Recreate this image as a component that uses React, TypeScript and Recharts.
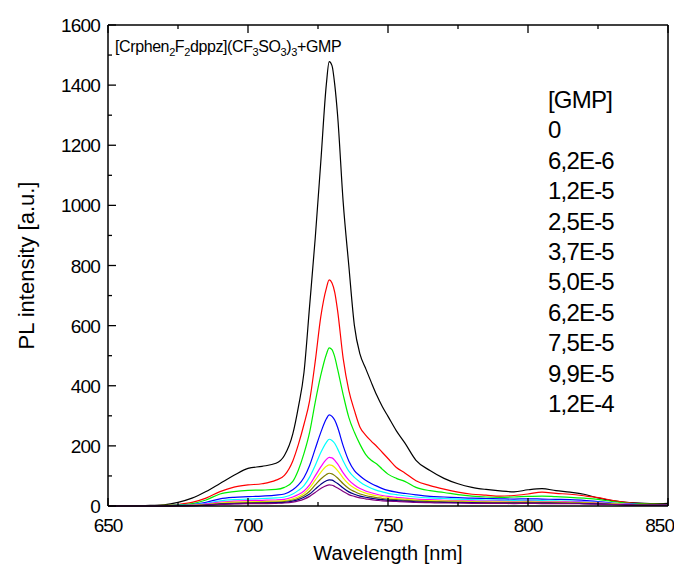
import { LineChart, Line, XAxis, YAxis, Legend } from 'recharts'

const wavelength = [650, 655, 660, 665, 670, 675, 680, 685, 690, 695, 700, 705, 710, 713, 716, 718, 720, 722, 724, 726, 728, 729, 730, 731, 732, 734, 736, 738, 740, 742, 744, 746, 748, 750, 753, 756, 760, 765, 770, 775, 780, 785, 790, 795, 800, 805, 810, 815, 820, 825, 830, 835, 840, 845, 850]

// PL intensity for each [GMP]
const gmp0 = [0, 1, 0, 2, 4, 12, 26, 48, 75, 102, 125, 132, 142, 168, 240, 330, 445, 665, 890, 1145, 1405, 1478, 1465, 1400, 1300, 1010, 800, 600, 505, 458, 412, 368, 330, 298, 250, 210, 152, 118, 92, 74, 62, 55, 50, 47, 54, 58, 51, 46, 39, 27, 18, 12, 10, 8, 9]
const gmp1 = [0, 0, 1, 1, 2, 5, 12, 26, 48, 63, 70, 74, 86, 102, 150, 205, 272, 350, 480, 630, 725, 752, 742, 710, 650, 490, 385, 318, 262, 236, 216, 198, 178, 158, 128, 110, 84, 68, 56, 46, 39, 36, 33, 35, 40, 46, 42, 39, 34, 28, 19, 12, 8, 6, 5]
const gmp2 = [0, 0, 0, 1, 2, 3, 8, 20, 40, 48, 52, 53, 55, 62, 82, 120, 175, 245, 345, 435, 505, 526, 520, 495, 455, 370, 295, 245, 205, 172, 152, 140, 122, 106, 92, 82, 62, 51, 45, 38, 33, 30, 29, 30, 32, 33, 31, 29, 26, 22, 15, 10, 7, 6, 5]
const gmp3 = [0, 0, 0, 1, 1, 2, 5, 12, 24, 29, 31, 33, 36, 40, 54, 70, 95, 135, 190, 245, 290, 303, 298, 285, 262, 200, 150, 118, 100, 86, 75, 66, 58, 52, 46, 42, 37, 32, 30, 28, 26, 25, 24, 23, 24, 23, 22, 21, 19, 15, 10, 7, 5, 4, 4]
const gmp4 = [0, 0, 0, 0, 1, 2, 4, 9, 17, 21, 23, 25, 27, 30, 40, 52, 68, 96, 135, 178, 212, 222, 218, 208, 190, 150, 116, 95, 80, 68, 59, 52, 47, 42, 38, 34, 30, 27, 25, 23, 21, 20, 19, 18, 19, 18, 17, 16, 14, 12, 9, 6, 5, 4, 4]
const gmp5 = [0, 0, 0, 0, 1, 1, 3, 7, 13, 16, 18, 19, 20, 22, 30, 38, 50, 70, 100, 130, 155, 162, 160, 152, 140, 110, 86, 70, 58, 50, 44, 39, 35, 32, 29, 26, 23, 21, 19, 18, 17, 16, 16, 15, 16, 15, 15, 14, 13, 11, 8, 6, 4, 4, 3]
const gmp6 = [0, 0, 0, 0, 0, 1, 2, 5, 10, 13, 14, 15, 16, 18, 24, 31, 42, 60, 86, 112, 132, 137, 135, 128, 118, 93, 73, 60, 50, 43, 38, 34, 31, 28, 25, 23, 20, 18, 17, 16, 15, 14, 14, 13, 14, 13, 13, 12, 11, 10, 7, 5, 4, 3, 3]
const gmp7 = [0, 0, 0, 0, 0, 1, 2, 4, 8, 10, 11, 12, 13, 15, 20, 26, 35, 49, 70, 90, 105, 109, 107, 101, 93, 74, 58, 48, 40, 35, 31, 28, 25, 23, 21, 19, 17, 15, 14, 13, 12, 12, 11, 11, 12, 11, 11, 10, 10, 8, 6, 4, 3, 3, 3]
const gmp8 = [0, 0, 0, 0, 0, 1, 1, 3, 6, 8, 9, 10, 11, 12, 16, 21, 29, 40, 56, 72, 84, 87, 86, 81, 75, 60, 47, 39, 33, 29, 26, 23, 21, 19, 18, 16, 14, 13, 12, 11, 11, 10, 10, 10, 10, 10, 9, 9, 8, 7, 5, 4, 3, 3, 3]
const gmp9 = [0, 0, 0, 0, 0, 0, 1, 3, 5, 7, 8, 8, 9, 10, 13, 17, 23, 32, 45, 58, 68, 70, 69, 65, 60, 48, 38, 32, 27, 24, 21, 19, 17, 16, 15, 14, 12, 11, 10, 10, 9, 9, 9, 8, 9, 8, 8, 8, 7, 6, 5, 4, 3, 3, 3]

const concentrations = ['0', '6,2E-6', '1,2E-5', '2,5E-5', '3,7E-5', '5,0E-5', '6,2E-5', '7,5E-5', '9,9E-5', '1,2E-4']
const colors = ['#000000', '#ff0000', '#00ee00', '#0000ff', '#00ffff', '#ff00ff', '#f0f000', '#808000', '#000080', '#800080']
const series = [gmp0, gmp1, gmp2, gmp3, gmp4, gmp5, gmp6, gmp7, gmp8, gmp9]

const xTicks = [650, 675, 700, 725, 750, 775, 800, 825, 850]
const xLabels = [650, 700, 750, 800, 850]
const yTicks = [0, 100, 200, 300, 400, 500, 600, 700, 800, 900, 1000, 1100, 1200, 1300, 1400, 1500, 1600]
const yLabels = [0, 200, 400, 600, 800, 1000, 1200, 1400, 1600]

const data = wavelength.map((w, i) => {
  const row: Record<string, number> = { w }
  series.forEach((s, k) => {
    row['c' + k] = s[i]
  })
  return row
})

const font = '"Liberation Sans", Arial, sans-serif'

const BottomTick = (props: any) => {
  const { x, y, payload } = props
  const major = xLabels.includes(payload.value)
  const last = payload.value === 850
  return (
    <g>
      <line x1={x} y1={y} x2={x} y2={y - (major ? 8 : 4)} stroke="#000" strokeWidth={1.3} />
      {major && (
        <text
          x={last ? x + 6 : x}
          y={y + 26}
          textAnchor={last ? 'end' : 'middle'}
          fontSize={19}
          fontFamily={font}
          fill="#000"
          letterSpacing={-1}
        >
          {payload.value}
        </text>
      )}
    </g>
  )
}

const TopTick = (props: any) => {
  const { x, y, payload } = props
  const major = xLabels.includes(payload.value)
  return <line x1={x} y1={y} x2={x} y2={y + (major ? 8 : 4)} stroke="#000" strokeWidth={1.3} />
}

const LeftTick = (props: any) => {
  const { x, y, payload } = props
  const major = yLabels.includes(payload.value)
  return (
    <g>
      <line x1={x} y1={y} x2={x + (major ? 8 : 4)} y2={y} stroke="#000" strokeWidth={1.3} />
      {major && (
        <text x={x - 8} y={y + 7} textAnchor="end" fontSize={19} fontFamily={font} fill="#000" letterSpacing={-0.8}>
          {payload.value}
        </text>
      )}
    </g>
  )
}

const RightTick = (props: any) => {
  const { x, y, payload } = props
  const major = yLabels.includes(payload.value)
  return <line x1={x} y1={y} x2={x - (major ? 8 : 4)} y2={y} stroke="#000" strokeWidth={1.3} />
}

const LegendBox = () => (
  <div style={{ fontFamily: font, fontSize: 24, lineHeight: '30.4px', letterSpacing: -0.8, color: '#000' }}>
    <div>[GMP]</div>
    {concentrations.map((v) => (
      <div key={v}>{v}</div>
    ))}
  </div>
)

export default function App() {
  return (
    <div style={{ position: 'relative', width: 682, height: 572, margin: -8 }}>
      <LineChart width={682} height={572} data={data} margin={{ top: 24, right: 13, bottom: 6, left: 48 }}>
        <XAxis
          dataKey="w"
          type="number"
          domain={[650, 850]}
          ticks={xTicks}
          interval={0}
          tickSize={0}
          tickMargin={0}
          tickLine={false}
          tick={<BottomTick />}
          height={60}
          axisLine={{ stroke: '#000', strokeWidth: 1.5 }}
          label={(p: any) => {
            const vb = p.viewBox || { x: 108, y: 506, width: 560 }
            return (
              <text x={vb.x + vb.width / 2} y={vb.y + 47} textAnchor="middle" dominantBaseline="central" fontSize={20} fontFamily={font} fill="#000">
                Wavelength [nm]
              </text>
            )
          }}
        />
        <XAxis
          xAxisId="top"
          orientation="top"
          dataKey="w"
          type="number"
          domain={[650, 850]}
          ticks={xTicks}
          interval={0}
          tickSize={0}
          tickMargin={0}
          tickLine={false}
          tick={<TopTick />}
          height={1}
          axisLine={{ stroke: '#000', strokeWidth: 1.5 }}
        />
        <YAxis
          type="number"
          domain={[0, 1600]}
          ticks={yTicks}
          interval={0}
          tickSize={0}
          tickMargin={0}
          tickLine={false}
          tick={<LeftTick />}
          width={60}
          axisLine={{ stroke: '#000', strokeWidth: 1.5 }}
          label={(p: any) => {
            const vb = p.viewBox || { x: 48, y: 25, height: 481 }
            const cx = vb.x - 22
            const cy = vb.y + vb.height / 2
            return (
              <text x={cx} y={cy} transform={`rotate(-90 ${cx} ${cy})`} textAnchor="middle" dominantBaseline="central" fontSize={22} fontFamily={font} fill="#000">
                PL intensity [a.u.]
              </text>
            )
          }}
        />
        <YAxis
          yAxisId="right"
          orientation="right"
          type="number"
          domain={[0, 1600]}
          ticks={yTicks}
          interval={0}
          tickSize={0}
          tickMargin={0}
          tickLine={false}
          tick={<RightTick />}
          width={1}
          axisLine={{ stroke: '#000', strokeWidth: 1.5 }}
        />
        <Legend
          layout="vertical"
          align="center"
          verticalAlign="middle"
          content={<LegendBox />}
          wrapperStyle={{ left: 548, top: 85, width: 120 }}
        />
        {series.map((_, k) => (
          <Line
            key={k}
            dataKey={'c' + k}
            name={concentrations[k]}
            stroke={colors[k]}
            strokeWidth={1.2}
            dot={false}
            type="monotone"
            isAnimationActive={false}
          />
        ))}
      </LineChart>
      <div style={{ position: 'absolute', left: 115, top: 38, fontFamily: font, fontSize: 16, lineHeight: '18px', letterSpacing: -0.4, color: '#000', whiteSpace: 'nowrap' }}>
        [Crphen<sub style={{ fontSize: 11 }}>2</sub>F<sub style={{ fontSize: 11 }}>2</sub>dppz](CF<sub style={{ fontSize: 11 }}>3</sub>SO
        <sub style={{ fontSize: 11 }}>3</sub>)<sub style={{ fontSize: 11 }}>3</sub>+GMP
      </div>
    </div>
  )
}
